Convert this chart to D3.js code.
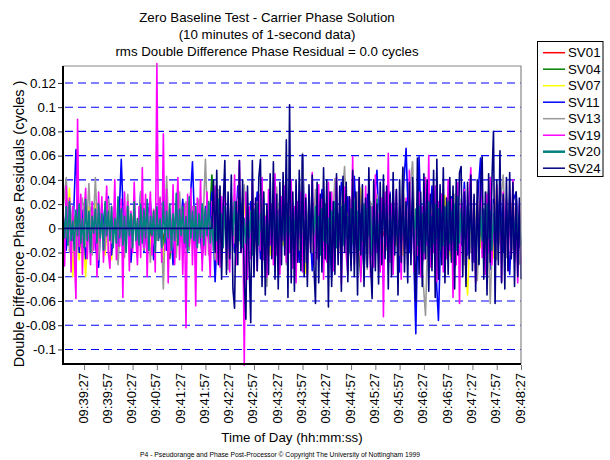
<!DOCTYPE html>
<html>
<head>
<meta charset="utf-8">
<script src="https://cdn.jsdelivr.net/npm/d3@7"></script>
<style>
body { margin: 0; background: #fff; }
svg text { font-family: Arial, "Liberation Sans", sans-serif; fill: #000; }
</style>
</head>
<body>
<div id="chart"></div>
<script>
// residuals in millicycles, one value per `step` seconds from startTime
const startTime = "09:39:01";
const endTime = "09:48:27";
const tickLabels = ["09:39:27", "09:39:57", "09:40:27", "09:40:57", "09:41:27", "09:41:57",
    "09:42:27", "09:42:57", "09:43:27", "09:43:57", "09:44:27", "09:44:57", "09:45:27",
    "09:45:57", "09:46:27", "09:46:57", "09:47:27", "09:47:57", "09:48:27"];
const yTicks = [-0.1, -0.08, -0.06, -0.04, -0.02, 0, 0.02, 0.04, 0.06, 0.08, 0.1, 0.12];
const titleLines = ["Zero Baseline Test - Carrier Phase Solution",
    "(10 minutes of 1-second data)",
    "rms Double Difference Phase Residual = 0.0 cycles"];

const seriesNames = ["SV01", "SV04", "SV07", "SV11", "SV13", "SV19", "SV20", "SV24"];
const seriesColors = ["#ff0000", "#008000", "#ffff00", "#0000ff", "#999999", "#ff00ff", "#008080", "#000080"];
const seriesSteps = [4, 4, 4, 4, 4, 2, 2, 2];

const sv01 = [
    5, -8, 10, -6, 8, -4, 6, -10, 8, -6, 10, -8, 4, -6, 8, -10, 6, -4, 10, -8,
    6, -6, 8, -10, 4, -8, 10, -6, 6, -4, 8, -10, 6, -8, 10, -4, 8, -6, 4, -10,
    8, -6, 10, -8, 6, -4, 8, -10, 6, -8, 4, -6, 10, -8, 8, -4, 6, -10, 8, -6,
    10, -4, 6, -8, 8, -10, 4, -6, 10, -8, 6, -4, 8, -10, 6, -8, 10, -6, 4, -8,
    6, -10, 8, -4, 10, -6, 8, -8, 4, -10, 6, -6, 10, -4, 8, -8, 6, -10, 4, -6,
    8, -8, 10, -6, 4, -10, 6, -4, 8, -6, 10, -8, 6, -10, 4, -6, 8, -4, 10, -8,
    6, -6, 8, -10, 10, -4, 6, -8, 4, -6, 8, -10, 6, -4, 10, -8, 8, -6, 4, -10,
    8, -6];
const sv04 = [
    6, -10, 12, -8, 14, -6, 10, -12, 8, -4, 12, -10, 6, -14, 10, -8, 12, -6, 8, -10,
    10, -6, 14, -12, 8, -10, 12, -4, 10, -8, 6, -14, 12, -25, 10, -8, 14, -6, 12, -10,
    8, -12, 10, -6, 14, -8, 44, -10, 12, -6, 8, -14, 10, -8, 12, -10, 6, -12, 14, -8,
    10, -6, 12, -10, 8, -14, 12, -6, 10, -8, 14, -12, 6, -10, 12, -8, 10, -6, 14, -12,
    8, -10, 12, -6, 10, -14, 8, -12, 14, -6, 10, -8, -40, 12, -10, 8, -6, 12, -14, 10,
    -8, 12, -6, 10, -12, 14, -8, 10, -6, 12, -14, 8, -10, 12, -6, 10, -8, -17, 12, -10,
    8, -12, 14, -6, 10, -8, 12, -14, 6, -10, 12, -8, 10, -6, 14, -12, 8, -10, 12, -6,
    10, -8];
const sv07 = [
    10, -15, 33, -40, 12, -26, 8, -40, 18, -12, 20, -16, 6, -22, 14, -26, 10, -18, 16, -12,
    12, -20, 18, -8, 22, -14, 10, -18, 15, -10, 14, -29, 20, -12, 8, -18, 16, -10, 20, -14,
    12, -18, 8, -22, 16, -10, 20, -15, 12, -24, 18, -10, 14, -20, 10, -16, 22, -12, 18, -8,
    -16, 20, -10, 14, -22, 12, -18, 24, -14, 10, -20, 16, -12, 22, -10, -37, 18, -14, 12, -20,
    16, -12, 20, -18, 10, -22, 14, -10, 18, -16, 27, -12, 33, -20, 14, -18, 22, -10, 16, -24,
    12, -18, 20, -14, 10, -22, 16, -12, 18, -20, 14, -10, 22, -16, 26, -12, 18, -26, 27, -14,
    -26, 20, -14, 12, -18, -55, 16, -12, 22, -16, 10, -20, 14, -24, 36, -12, 18, -16, 10, 22,
    -14, 12];
const sv11 = [
    12, -18, 22, -10, 65, -20, 15, -25, 8, 18, -14, -32, 20, -8, 26, -22, 10, -15, 57, -20,
    18, -28, 14, -12, 30, -20, 10, 22, -26, 16, -8, 28, -18, 12, -30, 20, -10, 24, -16, 8,
    55, -22, 14, -26, 18, -10, 30, -44, 20, -14, 26, -30, 12, -20, 35, -18, 8, -28, 22, -12,
    30, -25, 16, -38, 20, -10, 28, -32, 14, -20, 36, -16, 10, -28, 61, -22, 18, -35, 24, -12,
    32, -26, 14, -40, 22, -18, 38, -12, 26, -30, 43, -20, 12, -34, 28, -24, 16, 48, -28, 20,
    -14, 30, -22, 18, -36, 25, 66, -20, 14, -87, 59, -30, 22, -16, 35, -24, -76, 28, -18, 12,
    26, -32, 18, -14, 38, -22, 12, -28, 20, 58, -26, 16, -34, 24, -12, 30, -20, 14, -38, 22,
    30, -16];
const sv13 = [
    15, 42, -20, 18, -28, 10, 25, -15, 37, -22, 42, -26, 8, -18, 24, -12, 20, -30, 14, -24,
    28, -16, 12, -22, 30, -18, 20, -28, 16, -10, 26, -50, 43, -20, 14, -24, 30, -12, 22, -18,
    18, -30, 24, -14, 57, -22, 10, -26, 32, -16, 20, -34, 28, -12, 24, -20, 36, -18, 14, -28,
    22, -16, 30, -48, 18, -24, 34, -14, 26, -30, 20, -24, 16, -18, 62, -28, 24, -20, 32, -16,
    20, -26, 28, -14, 41, -22, 18, 51, -30, 24, -18, 30, -24, 16, -34, 22, -12, 28, -20, 36,
    -18, 24, -30, 14, -22, 51, -16, 28, 55, -24, 20, -34, -72, 26, -18, 30, -26, 20, -14, 34,
    -22, 28, -16, 24, -30, 18, -20, 26, -43, 22, -14, 30, -62, 20, -26, 18, 44, -24, 28, -18,
    24, -30];
const sv19 = [
    20, -31, 35, -12, 25, -36, 18, -22, -58, 90, -15, 28, -38, 12, 33, -25, 8, -30, 22, -18,
    15, -40, 30, -10, 26, -28, 5, 35, -20, -33, 18, -8, 40, -26, 10, -15, 24, -57, 30, -12,
    22, -35, 14, -20, 38, -6, -30, 18, -24, 50, -16, 28, -40, 8, 30, -22, 15, -36, 136, -10,
    25, -28, 78, -18, 32, -45, 12, -20, 36, -30, 8, 42, -26, 15, -38, 20, -82, 28, -15, 33,
    -30, 18, -64, 25, -12, 40, -35, 10, -22, 30, -8, -40, 22, -18, 35, -28, 14, -32, 26, -10,
    38, -24, 12, -36, 20, -15, 44, -30, 8, 56, -20, 25, -113, 30, -42, 18, -25, 40, -12, 22,
    -35, 28, -18, 42, -26, 10, -40, 32, -14, 20, -30, 45, -22, 15, -38, 26, -10, 35, -28, 12,
    -20, 40, -33, 18, -45, 22, -8, 30, -36, 14, 28, -40, 20, -16, 46, -30, 10, -25, 36, -18,
    24, -42, 16, -28, 38, -12, 30, -35, 8, 42, -26, 20, -46, 12, 34, -22, -38, 26, -15, 59,
    -30, 22, -18, 40, -44, 15, -25, 35, -10, 28, -40, 18, -32, 44, -20, 12, -36, 25, -73, 30,
    -15, 62, -28, 20, -38, 14, 32, -24, 10, -42, 36, -18, 25, -30, 48, -12, 20, -36, 15, -22,
    30, -40, 18, -26, 42, -14, 60, -32, 12, -20, 35, -44, 22, -10, 28, -36, 16, -25, 40, -18,
    24, -57, 14, -30, 38, -62, 20, -15, 32, -40, 10, 26, 50, -28, 18, -45, 22, -12, 35, -24,
    15, -38, 28, -20, 42, -30, 12, -26, 36, -16, 22, -44, 30, -10, 25, -35, 18, -22, 40, -28,
    12, -45, 20, -30];
const sv20 = [
    12, -8, 18, -14, 22, -10, 6, -18, 15, -6, 20, -12, 8, -16, 24, -10, 14, -20, 10, -4,
    16, -12, 20, -8, 12, -18, 22, -6, 14, -10, 18, -16, 8, -12, 26, -8, 16, -14, 10, -20,
    18, -6, 12, -16, 22, -10, 8, -14, 20, -12, 16, -8, 24, -18, 10, -6, 14, -20, 18, -10,
    8, -16, 22, -12, 14, -8, 20, -18, 12, -10, 29, -14, 16, -6, 18, -12, 10, -20, 26, -8,
    14, -10, 18, -16, 12, -8, 20, -14, 16, -6, 22, -12, 10, -18, 14, -10, 24, -8, 12, -16,
    18, -12, 10, -20, 16, -6, 22, -14, 12, -10, 20, -16, 8, -12, 18, -8, 14, -22, 16, -10,
    20, -14, 12, -8, 24, -18, 10, -12, 16, -6, 18, -20, 14, -10, 22, -8, 12, -16, 20, -12,
    10, -18, 16, -8, 22, -14, 12, -10, 18, -16, 8, -20, 24, -12, 14, -6, 18, -14, 10, -22,
    16, -10, 20, -12, 8, -18, 14, -6, 22, -16, 12, -10, 18, -14, 20, -8, 10, -20, 16, -12,
    22, -8, 14, -18, 12, -10, 20, -14, 16, -6, 18, -22, 10, -12, 24, -16, 14, -8, 20, -10,
    12, -18, 16, -10, 22, -14, 8, -20, 18, -12, 14, -6, 20, -16, 10, -18, 24, -10, 16, -14,
    18, -8, 12, -20, 14, -10, 22, -16, 10, -12, 20, -8, 16, -18, 12, -14, 18, -6, 22, -12,
    14, -10, 20, -18, 26, -12, 16, -8, 12, -14, 18, -10, 22, -16, 10, -20, 14, -29, 18, -10,
    16, -12, 20, -8, 14, -18, 12, -10, 22, -14, 16, -6, 18, -20, 10, -12, 24, -16, 14, -8,
    18, -10, 12, -14];
const sv24 = [
    0, 0, 0, 0, 0, 0, 0, 0, 0, 0, 0, 0, 0, 0, 0, 0, 0, 0, 0, 0,
    0, 0, 0, 0, 0, 0, 0, 0, 0, 0, 0, 0, 0, 0, 0, 0, 0, 0, 0, 0,
    0, 0, 0, 0, 0, 0, 0, 0, 0, 0, 0, 0, 0, 0, 0, 0, 0, 0, 0, 0,
    0, 0, 0, 0, 0, 0, 0, 0, 0, 0, 0, 0, 0, 0, 0, 0, 0, 0, 0, 0,
    0, 0, 0, 0, 0, 0, 0, 0, 0, 0, 0, 0, 0, 40, -20, 48, -30, 35, -42, 20,
    56, -38, 30, -25, 44, -50, -66, 22, -30, 56, -20, 40, -45, -75, 35, -28, -78, 56, -40, 25,
    -35, 42, 57, -48, 30, -55, 20, -38, 45, -25, 55, -42, 28, -50, 38, -30, 46, -22, 73, -57,
    102, -45, 30, -52, 40, -28, 48, -35, 61, -40, 25, -48, 36, -20, 44, -30, -62, 38, -45, 28,
    -36, 50, -25, 40, -65, 30, -48, 22, -38, 45, -30, 35, -52, 43, -20, 38, -44, 26, -35, 48,
    -40, 30, -55, 42, -22, 36, -48, 25, -32, 50, -28, -58, 40, -35, 20, -46, 38, -30, 44, -25,
    35, -50, 28, -40, 46, -22, 32, -55, 40, -28, 50, -36, 22, -45, 38, -30, 42, -20, -60, 58,
    -38, 30, -48, 45, -25, 40, -52, 28, -35, 48, -57, 57, -42, 36, -30, 50, -45, 25, -38, 42,
    -28, 35, -50, 40, -22, 46, 51, -40, 30, -48, 38, -25, 44, -35, 28, -52, 40, -30, 36, 59,
    -42, 30, -55, 45, -28, 38, 80, -62, 40, -30, 64, -45, 28, -50, 42, -35, 46, -25, 38, -48,
    30, -40, 25, -42];
const seriesValues = [sv01, sv04, sv07, sv11, sv13, sv19, sv20, sv24];

const width = 610, height = 460;
const plot = { left: 63, right: 521, top: 66, bottom: 364 };

const parseTime = d3.timeParse("%H:%M:%S");
const t0 = parseTime(startTime);

const x = d3.scaleTime()
    .domain([t0, parseTime(endTime)])
    .range([plot.left, plot.right]);
const y = d3.scaleLinear()
    .domain([-0.112, 0.134])
    .range([plot.bottom, plot.top]);

const svg = d3.select("#chart").append("svg")
    .attr("width", width)
    .attr("height", height);

// gridlines
svg.append("g")
    .selectAll("line")
    .data(yTicks)
    .enter()
    .append("line")
    .attr("x1", plot.left + 2)
    .attr("x2", plot.right)
    .attr("y1", d => y(d))
    .attr("y2", d => y(d))
    .attr("stroke", "#0000ff")
    .attr("stroke-width", 1.1)
    .attr("stroke-dasharray", "8,5");

// series, drawn in legend order so SV24 ends on top
const line = d3.line()
    .x(d => x(d.t))
    .y(d => y(d.v));

seriesNames.forEach((name, k) => {
    const pts = seriesValues[k].map((v, i) => ({
        t: d3.timeSecond.offset(t0, i * seriesSteps[k]),
        v: v / 1000
    }));
    svg.append("path")
        .datum(pts)
        .attr("class", "series " + name)
        .attr("fill", "none")
        .attr("stroke", seriesColors[k])
        .attr("stroke-width", 1.6)
        .attr("stroke-linejoin", "round")
        .attr("d", line);
});

// plot frame
svg.append("path")
    .attr("d", `M${plot.left},${plot.top}H${plot.right}V${plot.bottom}`)
    .attr("fill", "none")
    .attr("stroke", "#888")
    .attr("stroke-width", 1.2);
svg.append("path")
    .attr("d", `M${plot.left},${plot.top}V${plot.bottom}H${plot.right}`)
    .attr("fill", "none")
    .attr("stroke", "#000")
    .attr("stroke-width", 2);

// y axis
const yAxis = svg.append("g")
    .attr("transform", `translate(${plot.left - 1},0)`)
    .call(d3.axisLeft(y)
        .tickValues(yTicks)
        .tickSize(4)
        .tickPadding(2)
        .tickFormat(d => String(+d.toFixed(2))));
yAxis.select(".domain").remove();
yAxis.selectAll(".tick line").attr("stroke", "#333");
yAxis.selectAll("text")
    .style("font-size", "13.3px")
    .attr("fill", "#000");

// x axis
const xAxis = svg.append("g")
    .attr("transform", `translate(0,${plot.bottom + 1})`)
    .call(d3.axisBottom(x)
        .tickValues(tickLabels.map(parseTime))
        .tickSize(5)
        .tickFormat(d3.timeFormat("%H:%M:%S")));
xAxis.select(".domain").remove();
xAxis.selectAll(".tick line").attr("stroke", "#777");
xAxis.selectAll("text")
    .style("font-size", "13px")
    .attr("fill", "#000")
    .attr("transform", "rotate(-90)")
    .attr("text-anchor", "end")
    .attr("x", -8)
    .attr("y", 3)
    .attr("dy", 0);

// titles
svg.append("g")
    .selectAll("text")
    .data(titleLines)
    .enter()
    .append("text")
    .attr("x", 267)
    .attr("y", (d, i) => 22 + i * 16.8)
    .attr("text-anchor", "middle")
    .style("font-size", "13.3px")
    .text(d => d);

svg.append("text")
    .attr("transform", "translate(24,224) rotate(-90)")
    .attr("text-anchor", "middle")
    .style("font-size", "14.5px")
    .text("Double Difference Phase Residuals (cycles )");

svg.append("text")
    .attr("x", (plot.left + plot.right) / 2)
    .attr("y", 442)
    .attr("text-anchor", "middle")
    .style("font-size", "13.3px")
    .text("Time of Day (hh:mm:ss)");

svg.append("text")
    .attr("x", 280)
    .attr("y", 457)
    .attr("text-anchor", "middle")
    .attr("textLength", 280)
    .attr("lengthAdjust", "spacingAndGlyphs")
    .style("font-size", "7.5px")
    .text("P4 - Pseudorange and Phase Post-Processor \u00a9 Copyright The University of Nottingham 1999");

// legend
const legend = svg.append("g");
legend.append("rect")
    .attr("x", 537.5)
    .attr("y", 41.5)
    .attr("width", 65.5)
    .attr("height", 135)
    .attr("fill", "#fff")
    .attr("stroke", "#000")
    .attr("stroke-width", 1);

const item = legend.selectAll(".item")
    .data(seriesNames)
    .enter()
    .append("g")
    .attr("class", "item")
    .attr("transform", (d, i) => `translate(0,${52.7 + i * 16.5})`);
item.append("line")
    .attr("x1", 543)
    .attr("x2", 565)
    .attr("stroke", (d, i) => seriesColors[i])
    .attr("stroke-width", (d, i) => seriesNames[i] === "SV20" ? 2.5 : 1.5);
item.append("text")
    .attr("x", 568)
    .attr("dy", "0.36em")
    .style("font-size", "13.3px")
    .text(d => d);
</script>
</body>
</html>
